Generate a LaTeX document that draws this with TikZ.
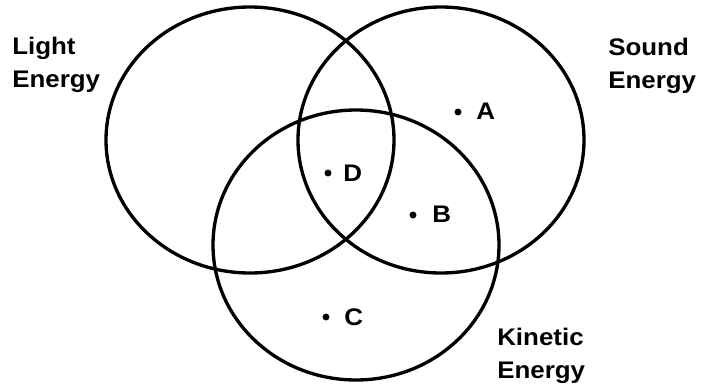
\documentclass[tikz,border=0pt]{standalone}
\usepackage{fontspec}
\setmainfont{Liberation Sans}[FakeStretch=1.08]
\begin{document}
\begin{tikzpicture}[x=0.75pt,y=-0.75pt,
  ring/.style={line width=2.5pt},
  lbl/.style={font=\fontsize{18}{24.5}\selectfont\bfseries, align=left, inner sep=0pt, anchor=base west},
  dot/.style={circle, fill, inner sep=0pt, minimum size=5.2pt},
  ltr/.style={font=\fontsize{18}{20}\selectfont\bfseries, inner sep=0pt, anchor=base west}]
\useasboundingbox (0,0) rectangle (715,387);
\coordinate (L) at (250,140);
\coordinate (S) at (441,140);
\coordinate (K) at (356,245);
\draw[ring] (L) ellipse [x radius=144, y radius=133];
\draw[ring] (S) ellipse [x radius=143, y radius=133];
\draw[ring] (K) ellipse [x radius=143, y radius=135];
\node[lbl] (light) at (12,87) {Light\\Energy};
\node[lbl] (sound) at (608,88) {Sound\\Energy};
\node[lbl] (kinetic) at (497,378) {Kinetic\\Energy};
\node[dot] (da) at (458,112) {};
\node[ltr] (la) at (476,119) {A};
\node[dot] (db) at (413,215) {};
\node[ltr] (lb) at (432,222) {B};
\node[dot] (dc) at (326,317) {};
\node[ltr] (lc) at (344,325) {C};
\node[dot] (dd) at (328,173) {};
\node[ltr] (ld) at (343,181) {D};
\end{tikzpicture}
\end{document}
